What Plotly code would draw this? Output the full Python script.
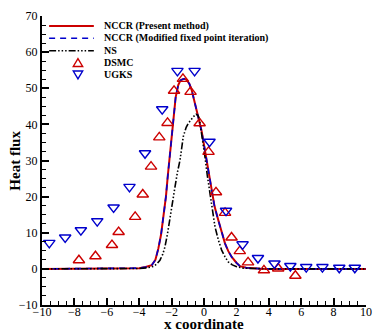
# heat flux profile across the shock: NCCR vs NS vs DSMC / UGKS
import plotly.graph_objects as go

# NCCR (present method) curve
nccr_x = [-10, -8, -6, -5, -4.5, -4.0, -3.6, -3.23, -3.0, -2.82, -2.65, -2.51, -2.35, -2.24, -2.14,
          -2.0, -1.89, -1.75, -1.59, -1.45, -1.31, -1.2, -1.07, -0.9, -0.76, -0.6, -0.45, -0.3,
          -0.14, 0.0, 0.17, 0.3, 0.47, 0.65, 0.88, 1.1, 1.30, 1.5, 1.71, 2.0, 2.22, 2.6, 3.0,
          3.5, 4, 5, 6, 7, 8, 9, 10]
nccr_y = [0, 0, 0, 0, 0.05, 0.2, 0.5, 1.0, 2.5, 5.6, 9.5, 14.4, 20.0, 25.5, 30.1,
          36.5, 42.1, 47.5, 50.9, 52.2, 52.5, 52.6, 52.3, 51.2, 49.5, 46.8, 44.0, 41.0,
          38.0, 34.2, 30.1, 26.5, 21.8, 17.3, 13.5, 9.8, 7.0, 4.9, 3.3, 1.7, 0.75, 0.3, 0.1,
          0.05, 0, 0, 0, 0, 0, 0, 0]

# NCCR (modified fixed point iteration) - sits right on top of the present method
mfpi_x = [-10, -8, -6, -5, -4.5, -4.0, -3.6, -3.23, -3.0, -2.82, -2.65, -2.51, -2.35, -2.24, -2.14,
          -2.0, -1.89, -1.75, -1.59, -1.45, -1.31, -1.2, -1.07, -0.9, -0.76, -0.6, -0.45, -0.3,
          -0.14, 0.0, 0.17, 0.3, 0.47, 0.65, 0.88, 1.1, 1.30, 1.5, 1.71, 2.0, 2.22, 2.6, 3.0,
          3.5, 4, 5, 6, 7, 8, 9, 10]
mfpi_y = [0, 0, 0, 0, 0.05, 0.2, 0.5, 1.0, 2.5, 5.6, 9.5, 14.4, 20.0, 25.5, 30.1,
          36.5, 42.1, 47.5, 50.9, 52.2, 52.5, 52.6, 52.3, 51.2, 49.5, 46.8, 44.0, 41.0,
          38.0, 34.2, 30.1, 26.5, 21.8, 17.3, 13.5, 9.8, 7.0, 4.9, 3.3, 1.7, 0.75, 0.3, 0.1,
          0.05, 0, 0, 0, 0, 0, 0, 0]

# Navier-Stokes
ns_x = [-10, -8, -6, -5, -4.5, -4.0, -3.5, -3.1, -2.9, -2.72, -2.55, -2.41, -2.25, -2.1, -1.95,
        -1.79, -1.65, -1.48, -1.28, -1.1, -0.97, -0.8, -0.66, -0.49, -0.38, -0.29, -0.14,
        0.06, 0.2, 0.37, 0.5, 0.68, 0.9, 1.09, 1.3, 1.5, 1.75, 2.02, 2.4, 3.0, 4, 5, 6, 7, 8, 9, 10]
ns_y = [0, 0, 0, 0, 0.02, 0.1, 0.3, 0.7, 1.4, 2.4, 4.0, 6.1, 9.8, 14.4, 18.6,
        22.7, 26.5, 30.1, 36.6, 39.2, 40.3, 41.4, 42.1, 42.8, 42.5, 41.7, 37.5,
        31.0, 26.0, 20.9, 16.5, 11.6, 7.8, 5.2, 3.3, 1.9, 1.1, 0.6, 0.2, 0.05, 0, 0, 0, 0, 0, 0, 0]

# DSMC symbols
dsmc_x = [-7.72, -6.70, -5.68, -5.27, -4.25, -3.78, -3.27, -2.76, -2.25, -1.85, -1.30, -0.83,
          -0.27, 0.28, 0.74, 1.30, 1.70, 2.21, 2.72, 3.70, 4.58, 5.64]
dsmc_y = [2.4, 3.5, 6.6, 10.2, 14.4, 20.6, 28.3, 36.4, 40.4, 49.3, 52.6, 49.0,
          40.3, 32.4, 21.2, 15.5, 8.7, 4.9, 1.8, -0.4, 0.1, -1.9]

# UGKS symbols
ugks_x = [-9.55, -8.57, -7.60, -6.59, -5.58, -4.60, -3.64, -2.58, -1.64, -0.58, 0.34, 1.36,
          2.38, 3.33, 4.35, 5.33, 6.31, 7.31, 8.35, 9.31]
ugks_y = [7.2, 8.7, 10.7, 13.2, 17.0, 22.7, 32.0, 44.2, 54.8, 54.8, 35.2, 16.1,
          6.8, 3.0, 1.5, 0.8, 0.5, 0.5, 0.3, 0.3]

legend_names = ["NCCR (Present method)", "NCCR (Modified fixed point iteration)", "NS", "DSMC", "UGKS"]

red = "#cc0000"
blue = "#0000cc"
serif = "Liberation Serif, Times New Roman, serif"
ns_dash = "7px,2px,1.5px,2px,1.5px,2px,1.5px,2px"

fig = go.Figure()
fig.add_trace(go.Scatter(x=nccr_x, y=nccr_y, mode="lines", name=legend_names[0],
                         line=dict(color=red, width=2)))
fig.add_trace(go.Scatter(x=mfpi_x, y=mfpi_y, mode="lines", name=legend_names[1],
                         line=dict(color=blue, width=1.6, dash="6px,5px")))
fig.add_trace(go.Scatter(x=ns_x, y=ns_y, mode="lines", name=legend_names[2],
                         line=dict(color="black", width=1.6, dash=ns_dash)))
fig.add_trace(go.Scatter(x=dsmc_x, y=dsmc_y, mode="markers", name=legend_names[3],
                         marker=dict(symbol="triangle-up-open", size=10, color=red,
                                     line=dict(width=1.4, color=red))))
fig.add_trace(go.Scatter(x=ugks_x, y=ugks_y, mode="markers", name=legend_names[4],
                         marker=dict(symbol="triangle-down-open", size=10, color=blue,
                                     line=dict(width=1.4, color=blue))))

axis_common = dict(showline=True, linecolor="black", linewidth=2, mirror=False,
                   ticks="inside", ticklen=7, tickwidth=1.5, tickcolor="black",
                   showgrid=False, zeroline=False, automargin=False,
                   tickfont=dict(family=serif, size=12, color="black"))

fig.update_xaxes(range=[-10, 10], dtick=2, ticklabelstandoff=-5,
                 minor=dict(dtick=0.5, ticks="inside", ticklen=4, tickcolor="black", tickwidth=1),
                 **axis_common)
fig.update_yaxes(range=[-10, 70], dtick=10,
                 minor=dict(dtick=2.5, ticks="inside", ticklen=4, tickcolor="black", tickwidth=1),
                 **axis_common)

# axis titles as annotations so they sit where the original has them
fig.add_annotation(text="<b>x coordinate</b>", xref="paper", yref="paper", x=0.5, y=-0.067,
                   xanchor="center", yanchor="middle", showarrow=False,
                   font=dict(family=serif, size=15, color="black"))
fig.add_annotation(text="<b>Heat flux</b>", xref="paper", yref="paper", x=-0.086, y=0.5,
                   xanchor="center", yanchor="middle", showarrow=False, textangle=-90,
                   font=dict(family=serif, size=15, color="black"))

# compact hand-made legend (plotly's own rows are too tall for this one)
row_y = [0.965, 0.923, 0.880, 0.839, 0.796]
line_styles = [dict(color=red, width=2), dict(color=blue, width=1.6, dash="6px,5px"),
               dict(color="black", width=1.6, dash=ns_dash)]
for i in range(3):
    fig.add_shape(type="line", xref="paper", yref="paper", x0=0.022, x1=0.16,
                  y0=row_y[i], y1=row_y[i], line=line_styles[i])

# legend triangles as small paper-space paths
cx, hw, hh = 0.111, 0.0145, 0.0135
yu, yd = row_y[3], row_y[4]
up_path = f"M {cx-hw},{yu-hh} L {cx+hw},{yu-hh} L {cx},{yu+hh} Z"
down_path = f"M {cx-hw},{yd+hh} L {cx+hw},{yd+hh} L {cx},{yd-hh} Z"
fig.add_shape(type="path", xref="paper", yref="paper", path=up_path, line=dict(color=red, width=1.4))
fig.add_shape(type="path", xref="paper", yref="paper", path=down_path, line=dict(color=blue, width=1.4))

for name, yy in zip(legend_names, row_y):
    fig.add_annotation(text="<b>" + name + "</b>", xref="paper", yref="paper", x=0.185, y=yy,
                       xanchor="left", yanchor="middle", showarrow=False,
                       font=dict(family=serif, size=10, color="black"))

fig.update_layout(
    width=374, height=332,
    margin=dict(l=42, r=8, t=16, b=27),
    plot_bgcolor="white", paper_bgcolor="white",
    showlegend=False,
)

# drop the browser's default body margin so the figure sits at the page corner
fig.write_html("out.html", config={"displayModeBar": False},
               post_script="document.body.style.margin='0';")
